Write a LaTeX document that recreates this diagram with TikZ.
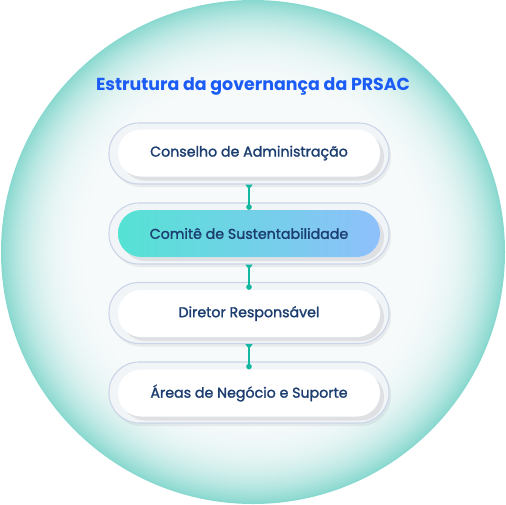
\documentclass[tikz,border=0pt]{standalone}
\usepackage{fontspec}
\setmainfont{Poppins}
\newfontfamily\boxfont{Poppins}[FakeBold=1.6]
\usetikzlibrary{arrows.meta,shadows,shadings}
\definecolor{edgeteal}{HTML}{8AD9D0}
\definecolor{ringfill}{HTML}{F2F5F8}
\definecolor{ringline}{HTML}{CBD5E8}
\definecolor{titleblue}{HTML}{1A5CF5}
\definecolor{navy}{HTML}{1B3D70}
\definecolor{connteal}{HTML}{14B8A0}
\definecolor{gradL}{HTML}{55E2D4}
\definecolor{gradR}{HTML}{8EC0FB}
\definecolor{centerwhite}{HTML}{F7FAFB}
\tikzset{
  ring/.style={draw=ringline, line width=1.1pt, fill=ringfill, minimum width=280pt, minimum height=61pt, rounded corners=30pt, inner sep=0pt,
    drop shadow={shadow xshift=2pt, shadow yshift=-3pt, opacity=0.12, fill=gray}},
  pill/.style={fill=white, minimum width=262pt, minimum height=47pt, rounded corners=23pt, inner sep=0pt, text=navy, font=\boxfont\fontsize{14.2}{16}\selectfont,
    drop shadow={shadow xshift=4pt, shadow yshift=-4pt, opacity=0.22, fill=gray!80}},
  conn/.style={draw=connteal, line width=1.3pt, {Triangle[reversed,length=5pt,width=7pt]}-{Circle[length=5.5pt]}}
}
\begin{document}
\begin{tikzpicture}[x=1pt,y=-1pt]
\useasboundingbox (0,0) rectangle (506,504);
\fill[white] (0,0) rectangle (506,504);
\foreach \r in {252,250,...,140} {
  \pgfmathsetmacro\p{100*((\r-140)/112)^3.4}
  \fill[edgeteal!\p!centerwhite] (253,252) circle[radius=\r];
}
\node[font=\bfseries\fontsize{17.4}{20}\selectfont, text=titleblue] (title) at (253,86) {Estrutura da governança da PRSAC};
\node[ring] (o1) at (249,153.5) {};
\node[ring] (o2) at (249,233.5) {};
\node[ring] (o3) at (249,313) {};
\node[ring] (o4) at (249,392.5) {};
\node[pill] (n1) at (249,153) {Conselho de Administração};
\node[pill, left color=gradL, right color=gradR] (n2) at (249,233.5) {Comitê de Sustentabilidade};
\node[pill] (n3) at (249,313.5) {Diretor Responsável};
\node[pill] (n4) at (249,393) {Áreas de Negócio e Suporte};
\draw[conn] (o1.south) -- (n2.north);
\draw[conn] (o2.south) -- (n3.north);
\draw[conn] (o3.south) -- (n4.north);
\end{tikzpicture}
\end{document}
